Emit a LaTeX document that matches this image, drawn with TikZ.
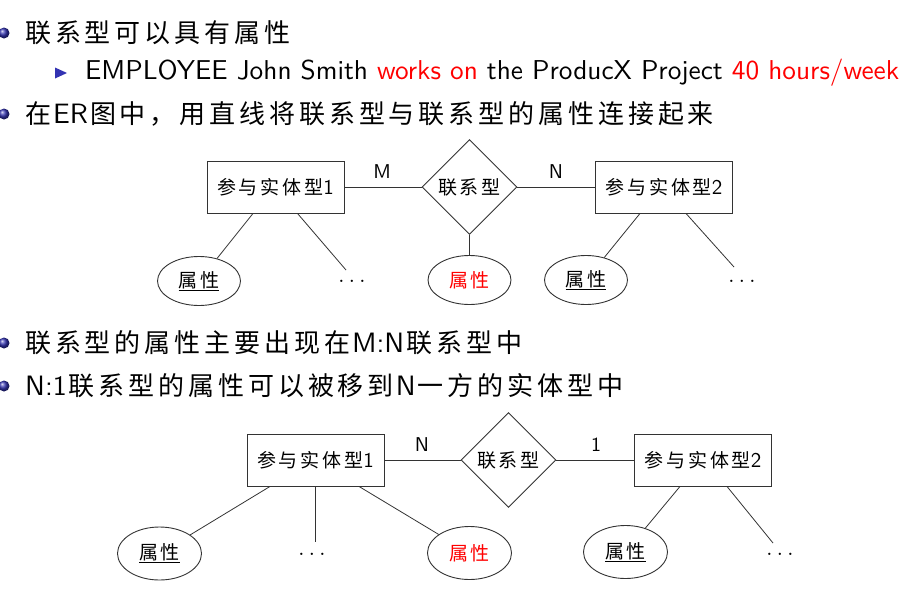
\documentclass[tikz,border=0pt]{standalone}
\usepackage{fontspec}
\usetikzlibrary{shapes.geometric}
\setmainfont{lmroman10-regular.otf}
\setsansfont{lmsans10-regular.otf}
\newfontfamily\cjk[LetterSpace=15]{Noto Sans CJK SC}
\definecolor{structure}{rgb}{0.2,0.2,0.7}
\definecolor{alertred}{rgb}{1,0,0}
\definecolor{edgegray}{gray}{0.2}
% Latin run inside a Chinese line
\newcommand{\lat}[1]{\kern2pt{\fontsize{28}{30}\selectfont #1}\kern2pt}
% three spaced dots for omitted attributes
\newcommand{\moredots}{.\kern4.4pt.\kern4.4pt.}

\begin{document}
\begin{tikzpicture}[x=1pt,y=-1pt,
  ballbullet/.style={circle,inner sep=0pt,minimum size=11pt,ball color=structure},
  body/.style={anchor=west,inner sep=0pt,font=\fontsize{26}{30}\selectfont\sffamily},
  latin/.style={anchor=west,inner sep=0pt,font=\fontsize{27.3}{30}\selectfont\sffamily},
  entity/.style={draw=edgegray,line width=0.9pt,minimum width=137pt,minimum height=52pt,
    inner sep=0pt,font=\fontsize{19}{19}\selectfont\sffamily},
  relation/.style={diamond,draw=edgegray,line width=0.9pt,minimum width=95pt,minimum height=95pt,
    inner sep=0pt,aspect=1,font=\fontsize{19}{19}\selectfont},
  attr/.style={ellipse,draw=edgegray,line width=0.9pt,minimum width=83pt,minimum height=49pt,
    inner sep=0pt,font=\fontsize{19}{19}\selectfont},
  card/.style={inner sep=0pt,font=\fontsize{20}{20}\selectfont\sffamily},
  dotsn/.style={inner sep=0pt,font=\fontsize{22}{22}\selectfont},
  conn/.style={draw=edgegray,line width=0.8pt}]
\useasboundingbox (0,0) rectangle (914,592);

% bullet list
\node[ballbullet] (b1) at (4,33) {};
\node[body] (l1) at (25,33) {\cjk 联系型可以具有属性};
\fill[structure] (55,67.5) -- (67,73) -- (55,78.5) -- cycle;
\node[latin] (l2) at (85,73) {EMPLOYEE John Smith \textcolor{alertred}{works on} the ProducX Project \textcolor{alertred}{40 hours/week}};
\node[ballbullet] (b3) at (4,114) {};
\node[body] (l3) at (25,114) {{\cjk 在}\lat{ER}{\cjk 图中，用直线将联系型与联系型的属性连接起来}};
\node[ballbullet] (b4) at (4,343) {};
\node[body] (l4) at (25,343) {{\cjk 联系型的属性主要出现在}\lat{M:N}{\cjk 联系型中}};
\node[ballbullet] (b5) at (4,386) {};
\node[body] (l5) at (25,386) {{\fontsize{28}{30}\selectfont N:1}\kern2pt{\cjk 联系型的属性可以被移到}\lat{N}{\cjk 一方的实体型中}};

% M:N relationship with its own attribute
\node[entity] (e11) at (275.5,187) {{\cjk 参与实体型}{\fontsize{21}{21}\selectfont 1}};
\node[relation] (r1) at (469.5,187) {\cjk 联系型};
\node[entity] (e12) at (664,187) {{\cjk 参与实体型}{\fontsize{21}{21}\selectfont 2}};
\node[attr] (a11) at (199,281) {\cjk\underline{属性}};
\node[attr] (a12) at (469.5,280) {\color{alertred}\cjk 属性};
\node[attr] (a13) at (586,280) {\cjk\underline{属性}};
\node[dotsn] (d11) at (352,281) {\moredots};
\node[dotsn] (d12) at (742,281) {\moredots};
\coordinate (d11c) at (346,270);
\coordinate (d12c) at (734,267);
\node[card] (m1) at (382,172) {M};
\node[card] (n1) at (556,172) {N};
\draw[conn] (e11) -- (r1);
\draw[conn] (r1) -- (e12);
\draw[conn] (r1) -- (a12);
\draw[conn] ([xshift=-22.5pt]e11.south) -- (a11);
\draw[conn] ([xshift=22pt]e11.south) -- (d11c);
\draw[conn] ([xshift=-24pt]e12.south) -- (a13);
\draw[conn] ([xshift=22pt]e12.south) -- (d12c);

% N:1 relationship, attribute moved to the N side
\node[entity] (e21) at (315.5,460) {{\cjk 参与实体型}{\fontsize{21}{21}\selectfont 1}};
\node[relation] (r2) at (508.5,460) {\cjk 联系型};
\node[entity] (e22) at (703,460) {{\cjk 参与实体型}{\fontsize{21}{21}\selectfont 2}};
\node[attr,minimum width=84pt,minimum height=53pt] (a21) at (159.5,553.5) {\cjk\underline{属性}};
\node[attr,minimum width=84pt,minimum height=53pt] (a22) at (469.5,553) {\color{alertred}\cjk 属性};
\node[attr,minimum width=84pt,minimum height=53pt] (a23) at (625.5,552) {\cjk\underline{属性}};
\node[dotsn] (d21) at (312,554) {\moredots};
\node[dotsn] (d22) at (780,554) {\moredots};
\coordinate (d21c) at (315.5,542);
\coordinate (d22c) at (773,543);
\node[card] (n2) at (422,445) {N};
\node[card] (o2) at (596,445) {1};
\draw[conn] (e21) -- (r2);
\draw[conn] (r2) -- (e22);
\draw[conn] ([xshift=-45.5pt]e21.south) -- (a21);
\draw[conn] (e21.south) -- (d21c);
\draw[conn] ([xshift=43.5pt]e21.south) -- (a22);
\draw[conn] ([xshift=-23pt]e22.south) -- (a23);
\draw[conn] ([xshift=24pt]e22.south) -- (d22c);
\end{tikzpicture}
\end{document}
